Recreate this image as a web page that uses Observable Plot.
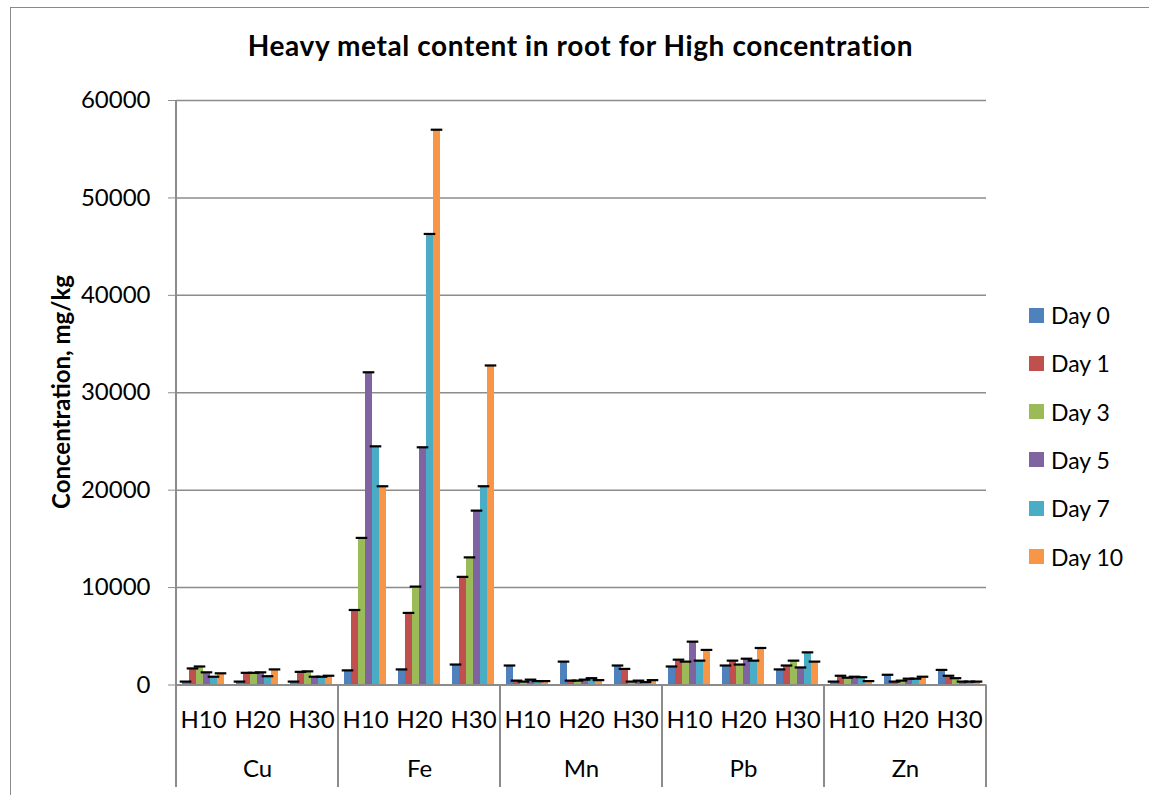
<!DOCTYPE html>
<html>
<head>
<meta charset="utf-8">
<script src="https://cdn.jsdelivr.net/npm/d3@7"></script>
<script src="https://cdn.jsdelivr.net/npm/@observablehq/plot@0.6"></script>
<style>
  html, body { margin: 0; padding: 0; background: #fff; overflow: hidden; }
  body { width: 1149px; height: 795px; position: relative; font-family: Lato, "Open Sans", sans-serif; }
  #border { position: absolute; left: 10px; top: 7px; width: 1300px; height: 900px; border: 1.5px solid #8a8a8a; box-sizing: border-box; }
  #title { position: absolute; left: 0; width: 1161px; top: 28px; text-align: center; font-weight: 700; font-size: 28px; letter-spacing: 0.6px; color: #000; }
  #ytitle { position: absolute; left: 60px; top: 392px; transform: translate(-50%, -50%) rotate(-90deg); font-weight: 700; font-size: 24px; white-space: nowrap; }
  #chart { position: absolute; left: 0; top: 0; }
  #legend { position: absolute; left: 1029px; top: 0; }
  .item { position: absolute; left: 0; display: flex; align-items: center; white-space: nowrap; font-size: 23px; transform: translateY(-50%); }
  .sw { width: 15px; height: 15px; margin-right: 7px; }
</style>
</head>
<body>
<div id="border"></div>
<div id="chart"></div>
<div id="title">Heavy metal content in root for High concentration</div>
<div id="ytitle">Concentration, mg/kg</div>
<div id="legend"></div>
<script>
// ---- data ----
const metals = ["Cu", "Fe", "Mn", "Pb", "Zn"];
const doses = ["H10", "H20", "H30"];
const days = ["Day 0", "Day 1", "Day 3", "Day 5", "Day 7", "Day 10"];
const colors = ["#4F81BD", "#C0504D", "#9BBB59", "#8064A2", "#4BACC6", "#F79646"];
const yTicks = [0, 10000, 20000, 30000, 40000, 50000, 60000];
// values per day, order: Cu H10,H20,H30, Fe ..., Mn ..., Pb ..., Zn ...
const day0  = [350, 350, 350,   1500, 1600, 2100,   2000, 2400, 2000,  1900, 2000, 1600,  350, 1050, 1550];
const day1  = [1700, 1250, 1350, 7700, 7400, 11100, 450, 450, 1650,   2600, 2500, 2000,  950, 350, 950];
const day3  = [1900, 1250, 1400, 15100, 10100, 13100, 350, 450, 350,  2400, 2100, 2500,  750, 450, 700];
const day5  = [1300, 1300, 850, 32100, 24400, 17900, 550, 550, 450,   4450, 2700, 1800,  850, 650, 350];
const day7  = [850, 900, 850,   24500, 46300, 20400, 400, 700, 300,   2500, 2500, 3350,  800, 650, 350];
const day10 = [1200, 1600, 950, 20400, 57000, 32800, 400, 500, 500,   3600, 3800, 2400,  400, 850, 350];
const series = [day0, day1, day3, day5, day7, day10];

// ---- table ----
const keys = [];
metals.forEach(m => doses.forEach(h => keys.push(m + "|" + h)));
const rows = [];
metals.forEach((m, i) => doses.forEach((h, j) => days.forEach((d, k) => {
  rows.push({key: m + "|" + h, metal: m, dose: h, day: d, value: series[k][i * 3 + j]});
})));
const groupLabels = metals.map(m => ({key: m + "|H20", metal: m}));

const W = 1149, H = 795;
const mL = 176, mR = 163, mT = 100, mB = 110.5;

const plot = Plot.plot({
  width: W, height: H,
  marginLeft: mL, marginRight: mR, marginTop: mT, marginBottom: mB,
  style: {fontFamily: "Lato, 'Open Sans', sans-serif", fontSize: "24px", color: "#000", background: "transparent"},
  fx: {domain: keys, padding: 0, label: null},
  x: {domain: days, paddingInner: 0, paddingOuter: 0.68, axis: null},
  y: {domain: [0, 60000], label: null},
  color: {domain: days, range: colors},
  marks: [
    Plot.gridY(yTicks, {stroke: "#8c8c8c", strokeOpacity: 1, strokeWidth: 1.5}),
    Plot.barY(rows, {fx: "key", x: "day", y: "value", fill: "day"}),
    Plot.tickY(rows, {fx: "key", x: "day", y: "value", stroke: "#000", strokeWidth: 2.2, insetLeft: -2.3, insetRight: -2.3}),
    Plot.ruleY([0], {stroke: "#8c8c8c", strokeWidth: 2}),
    Plot.axisY({ticks: yTicks, tickSize: 8, tickPadding: 18, tickFormat: d3.format("d"), stroke: "#8c8c8c", fill: "#000", label: null}),
    Plot.axisFx({anchor: "bottom", tickSize: 0, tickPadding: 26, tickFormat: d => d.split("|")[1], fill: "#000", label: null}),
    Plot.text(groupLabels, {fx: "key", text: "metal", frameAnchor: "bottom", dy: 92, fill: "#000", fontSize: 24})
  ]
});
document.getElementById("chart").appendChild(plot);

// category axis separators (positions from the fx scale)
const fx = plot.scale("fx");
const bw = fx.bandwidth;
const svg = d3.select(plot);
const sepX = metals.map(m => fx.apply(m + "|H10"));
sepX.push(fx.apply(metals[metals.length - 1] + "|H30") + bw);
const y0 = H - mB;
svg.append("g").selectAll("line").data(sepX).join("line")
  .attr("x1", d => d).attr("x2", d => d)
  .attr("y1", (d, i) => i === 0 ? mT : y0).attr("y2", 787)
  .attr("stroke", "#8c8c8c").attr("stroke-width", 2);

// legend
const lg = document.getElementById("legend");
days.forEach((d, i) => {
  const it = document.createElement("div");
  it.className = "item";
  it.style.top = (315 + 48.3 * i) + "px";
  it.innerHTML = `<div class="sw" style="background:${colors[i]}"></div><span>${d}</span>`;
  lg.appendChild(it);
});
</script>
</body>
</html>
